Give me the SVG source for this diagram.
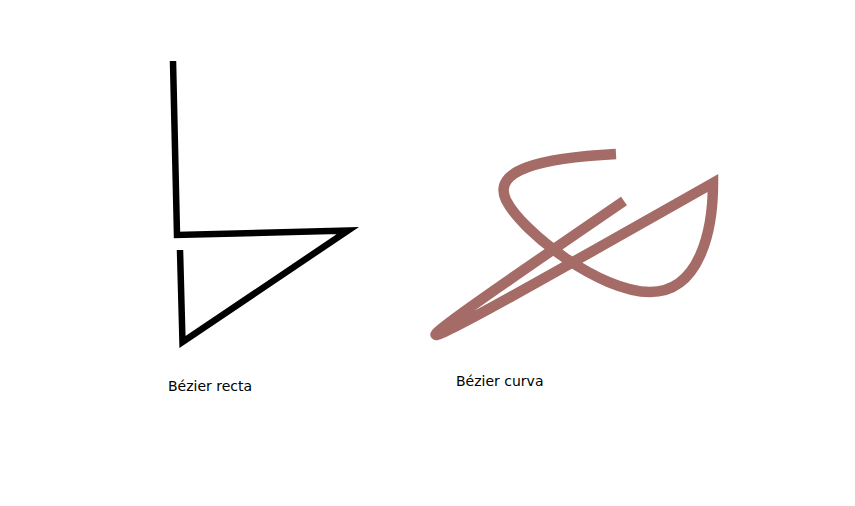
<svg xmlns="http://www.w3.org/2000/svg" width="855" height="506" viewBox="0 0 855 506">
<style>
.lbl{font-family:"DejaVu Sans",sans-serif;font-size:14px;fill:#000}
.recta{fill:none;stroke:#000;stroke-width:6.5;stroke-linejoin:miter;stroke-miterlimit:10}
.curva{fill:none;stroke:#a56b67;stroke-width:10.5;stroke-linejoin:miter;stroke-miterlimit:10}
</style>
<rect width="855" height="506" fill="#fff"/>
<g id="recta">
<path class="recta" d="M173,61 L177,235 L348,230.5 L182.5,342 L180,250"/>
<text class="lbl" x="168" y="391">Bézier recta</text>
</g>
<g id="curva">
<path class="curva" d="M616,154 C540,158 492,170 506,200 C522,232 600,292 650,292 C700,292 713,230 713,183 C365,380 355,385 624,201"/>
<text class="lbl" x="456" y="386">Bézier curva</text>
</g>
</svg>
